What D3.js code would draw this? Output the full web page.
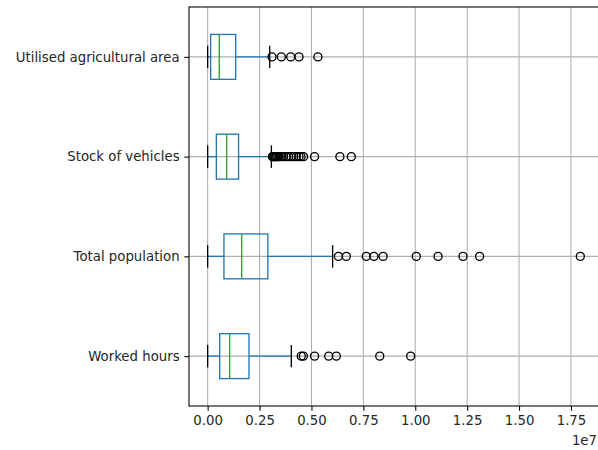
<!DOCTYPE html>
<html>
<head>
<meta charset="utf-8">
<script src="https://cdn.jsdelivr.net/npm/d3@7"></script>
<style>
  html, body { margin: 0; padding: 0; background: #fff; }
  svg { display: block; font-family: "DejaVu Sans", sans-serif; }
</style>
</head>
<body>
<svg id="chart" width="598" height="450"></svg>
<script>
// Variables, listed top to bottom
const categories = ["Utilised agricultural area", "Stock of vehicles", "Total population", "Worked hours"];

// Box statistics per variable
const whiskerLow  = [0, 0, 0, 0];
const q1          = [145000, 420000, 785000, 580000];
const median      = [560000, 915000, 1640000, 1060000];
const q3          = [1350000, 1490000, 2900000, 1990000];
const whiskerHigh = [2990000, 3070000, 6020000, 4030000];

// Points beyond the whiskers
const outliers = [
  [3100000, 3550000, 4000000, 4400000, 5310000],
  [3120000, 3160000, 3200000, 3240000, 3280000, 3330000, 3380000, 3450000, 3550000, 3650000,
   3780000, 3900000, 4020000, 4150000, 4270000, 4400000, 4500000, 4620000, 5150000, 6370000, 6920000],
  [6300000, 6680000, 7640000, 8010000, 8450000, 10050000, 11100000, 12300000, 13100000, 17950000],
  [4510000, 4610000, 5150000, 5830000, 6200000, 8290000, 9780000]
];

const xTicks = [0, 2500000, 5000000, 7500000, 10000000, 12500000, 15000000, 17500000];
const xTickLabels = ["0.00", "0.25", "0.50", "0.75", "1.00", "1.25", "1.50", "1.75"];

const svg = d3.select("#chart");
const plotLeft = 189, plotRight = 599, plotTop = 7, plotBottom = 406;

const x = d3.scaleLinear().domain([-898000, 18850000]).range([plotLeft, plotRight]);
// positions 1..n from bottom to top, as in a horizontal box plot
const n = categories.length;
const y = d3.scaleLinear().domain([0.5, n + 0.5]).range([plotBottom, plotTop]);
const pos = i => n - i;
const boxW = 0.45, capW = 0.225;

const blue = "#1f77b4", green = "#2ca02c", grid = "#b0b0b0";
const lw = 1.33, fontSize = 13.3, tickLen = 4.7;

// grid
const g = svg.append("g");
g.selectAll("line.vx").data(xTicks).join("line")
  .attr("x1", d => x(d)).attr("x2", d => x(d))
  .attr("y1", plotTop).attr("y2", plotBottom)
  .attr("stroke", grid).attr("stroke-width", 1.07);
g.selectAll("line.hy").data(categories).join("line")
  .attr("x1", plotLeft).attr("x2", plotRight)
  .attr("y1", (d, i) => y(pos(i))).attr("y2", (d, i) => y(pos(i)))
  .attr("stroke", grid).attr("stroke-width", 1.07);

// boxes
const b = svg.append("g");
categories.forEach((c, i) => {
  const cy = y(pos(i));
  const hb = (y(0) - y(boxW)) / 2;
  const hc = (y(0) - y(capW)) / 2;
  // whiskers
  b.append("line").attr("x1", x(whiskerLow[i])).attr("x2", x(q1[i]))
    .attr("y1", cy).attr("y2", cy).attr("stroke", blue).attr("stroke-width", lw);
  b.append("line").attr("x1", x(q3[i])).attr("x2", x(whiskerHigh[i]))
    .attr("y1", cy).attr("y2", cy).attr("stroke", blue).attr("stroke-width", lw);
  // caps
  [whiskerLow[i], whiskerHigh[i]].forEach(v => {
    b.append("line").attr("x1", x(v)).attr("x2", x(v))
      .attr("y1", cy - hc).attr("y2", cy + hc).attr("stroke", "#000").attr("stroke-width", lw);
  });
  // box
  b.append("rect").attr("x", x(q1[i])).attr("y", cy - hb)
    .attr("width", x(q3[i]) - x(q1[i])).attr("height", 2 * hb)
    .attr("fill", "none").attr("stroke", blue).attr("stroke-width", lw);
  // median
  b.append("line").attr("x1", x(median[i])).attr("x2", x(median[i]))
    .attr("y1", cy - hb).attr("y2", cy + hb).attr("stroke", green).attr("stroke-width", lw);
  // fliers
  b.selectAll(null).data(outliers[i]).join("circle")
    .attr("cx", d => x(d)).attr("cy", cy).attr("r", 4)
    .attr("fill", "none").attr("stroke", "#000").attr("stroke-width", lw);
});

// frame
svg.append("rect").attr("x", plotLeft).attr("y", plotTop)
  .attr("width", plotRight - plotLeft).attr("height", plotBottom - plotTop)
  .attr("fill", "none").attr("stroke", "#000").attr("stroke-width", 1.07);

// x axis
const xAxis = d3.axisBottom(x).tickValues(xTicks)
  .tickFormat((d, i) => xTickLabels[i]).tickSize(tickLen).tickPadding(4.7);
const gx = svg.append("g").attr("transform", `translate(0,${plotBottom})`).call(xAxis);
gx.select(".domain").remove();
gx.selectAll("line").attr("stroke-width", 1.07);
gx.selectAll("text").attr("font-size", fontSize).attr("fill", "#262626")
  .attr("font-family", "DejaVu Sans");

// y axis
const yAxis = d3.axisLeft(y).tickValues(categories.map((c, i) => pos(i)))
  .tickFormat(d => categories[n - d]).tickSize(tickLen).tickPadding(4.7);
const gy = svg.append("g").attr("transform", `translate(${plotLeft},0)`).call(yAxis);
gy.select(".domain").remove();
gy.selectAll("line").attr("stroke-width", 1.07);
gy.selectAll("text").attr("font-size", fontSize).attr("fill", "#262626")
  .attr("font-family", "DejaVu Sans");

// offset label
svg.append("text").attr("x", 597).attr("y", 445).attr("text-anchor", "end")
  .attr("font-size", fontSize).attr("fill", "#262626").text("1e7");
</script>
</body>
</html>
